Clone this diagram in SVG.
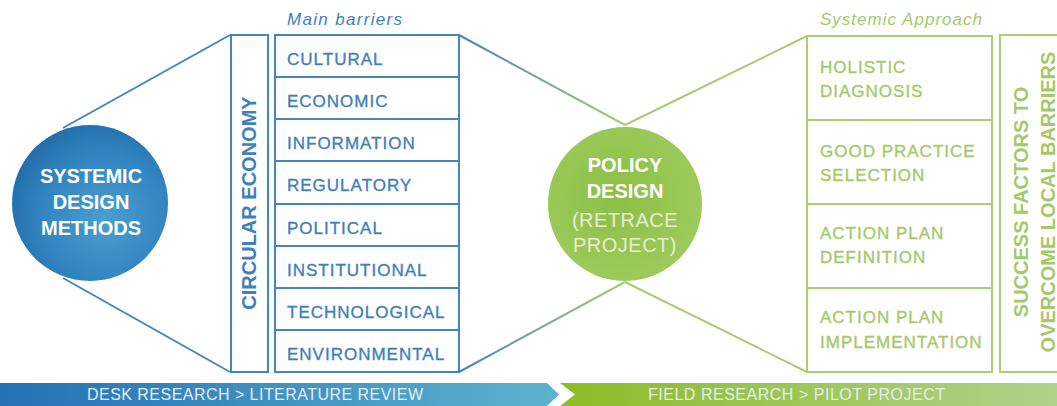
<svg xmlns="http://www.w3.org/2000/svg" width="1057" height="406" viewBox="0 0 1057 406">
<style>
  .b { fill: none; stroke: #4684bd; stroke-width: 2; }
  .g { fill: none; stroke: #a9cd70; stroke-width: 2; }
  .bt { font-family: "Liberation Sans", Arial, sans-serif; font-size: 17px; letter-spacing: 1px; fill: #3f80b9; stroke: #3f80b9; stroke-width: 0.35; }
  .gt { font-family: "Liberation Sans", Arial, sans-serif; font-size: 17px; letter-spacing: 1px; fill: #a5c96a; stroke: #a5c96a; stroke-width: 0.35; }
  .it { font-family: "Liberation Sans", Arial, sans-serif; font-size: 17px; font-style: italic; }
  .wt { font-family: "Liberation Sans", Arial, sans-serif; font-size: 20px; font-weight: bold; fill: #ffffff; text-anchor: middle; }
  .lt { font-family: "Liberation Sans", Arial, sans-serif; font-size: 20px; fill: #e3efcf; text-anchor: middle; letter-spacing: 0.5px; }
  .vt { font-family: "Liberation Sans", Arial, sans-serif; font-size: 20px; font-weight: bold; text-anchor: middle; }
  .bar { font-family: "Liberation Sans", Arial, sans-serif; font-size: 16px; fill: #e2eef3; }
</style>
<defs>
  <radialGradient id="blueC" cx="0.6" cy="0.6" r="0.7">
    <stop offset="0" stop-color="#4a9fd0"/>
    <stop offset="0.6" stop-color="#3184bf"/>
    <stop offset="1" stop-color="#1f68a5"/>
  </radialGradient>
  <radialGradient id="greenC" cx="0.45" cy="0.45" r="0.6">
    <stop offset="0" stop-color="#8cbf45"/>
    <stop offset="1" stop-color="#9fcb5e"/>
  </radialGradient>
  <linearGradient id="blueBar" x1="0" y1="0" x2="1" y2="0">
    <stop offset="0" stop-color="#2670b6"/>
    <stop offset="1" stop-color="#5cb3cd"/>
  </linearGradient>
  <linearGradient id="greenBar" x1="0" y1="0" x2="1" y2="0">
    <stop offset="0" stop-color="#8cbc27"/>
    <stop offset="1" stop-color="#b1d08b"/>
  </linearGradient>
  <linearGradient id="bgTop" gradientUnits="userSpaceOnUse" x1="459" y1="0" x2="625" y2="0">
    <stop offset="0" stop-color="#4684bd"/>
    <stop offset="1" stop-color="#a9cd70"/>
  </linearGradient>
</defs>

<g id="connectors">
  <line class="b" x1="230" y1="35" x2="63" y2="128"/>
  <line class="b" x1="230" y1="372" x2="63" y2="278"/>
  <line x1="459" y1="35" x2="625" y2="125" stroke="url(#bgTop)" stroke-width="2"/>
  <line x1="459" y1="372" x2="625" y2="282" stroke="url(#bgTop)" stroke-width="2"/>
  <line class="g" x1="625" y1="125" x2="807" y2="36"/>
  <line class="g" x1="625" y1="282" x2="807" y2="372"/>
</g>

<g id="systemic-design-methods">
  <circle cx="90" cy="203" r="78" fill="url(#blueC)"/>
  <text class="wt" x="91" y="183">SYSTEMIC</text>
  <text class="wt" x="91" y="209">DESIGN</text>
  <text class="wt" x="91" y="235">METHODS</text>
</g>

<g id="circular-economy">
  <rect class="b" x="231" y="35" width="37" height="337"/>
  <text class="vt" fill="#3f80b9" transform="translate(256,203) rotate(-90)">CIRCULAR ECONOMY</text>
</g>

<g id="main-barriers">
  <text class="it" x="287" y="25" fill="#3f80b9" textLength="115">Main barriers</text>
  <rect class="b" x="275" y="35" width="184" height="337"/>
  <line class="b" x1="275" y1="77" x2="459" y2="77"/>
  <line class="b" x1="275" y1="119" x2="459" y2="119"/>
  <line class="b" x1="275" y1="161" x2="459" y2="161"/>
  <line class="b" x1="275" y1="204" x2="459" y2="204"/>
  <line class="b" x1="275" y1="246" x2="459" y2="246"/>
  <line class="b" x1="275" y1="288" x2="459" y2="288"/>
  <line class="b" x1="275" y1="330" x2="459" y2="330"/>
  <text class="bt" x="287" y="65">CULTURAL</text>
  <text class="bt" x="287" y="107">ECONOMIC</text>
  <text class="bt" x="287" y="149">INFORMATION</text>
  <text class="bt" x="287" y="191">REGULATORY</text>
  <text class="bt" x="287" y="234">POLITICAL</text>
  <text class="bt" x="287" y="276">INSTITUTIONAL</text>
  <text class="bt" x="287" y="318">TECHNOLOGICAL</text>
  <text class="bt" x="287" y="360">ENVIRONMENTAL</text>
</g>

<g id="policy-design">
  <circle cx="625" cy="204" r="77" fill="url(#greenC)"/>
  <text class="wt" x="625" y="172">POLICY</text>
  <text class="wt" x="625" y="198">DESIGN</text>
  <text class="lt" x="625" y="227">(RETRACE</text>
  <text class="lt" x="625" y="252">PROJECT)</text>
</g>

<g id="systemic-approach">
  <text class="it" x="820" y="25" fill="#a5c96a" textLength="162">Systemic Approach</text>
  <rect class="g" x="807" y="36" width="185" height="336"/>
  <line class="g" x1="807" y1="120" x2="992" y2="120"/>
  <line class="g" x1="807" y1="204" x2="992" y2="204"/>
  <line class="g" x1="807" y1="288" x2="992" y2="288"/>
  <text class="gt" x="820" y="73">HOLISTIC</text>
  <text class="gt" x="820" y="97">DIAGNOSIS</text>
  <text class="gt" x="820" y="157">GOOD PRACTICE</text>
  <text class="gt" x="820" y="181">SELECTION</text>
  <text class="gt" x="820" y="239">ACTION PLAN</text>
  <text class="gt" x="820" y="263">DEFINITION</text>
  <text class="gt" x="820" y="323">ACTION PLAN</text>
  <text class="gt" x="820" y="348">IMPLEMENTATION</text>
</g>

<g id="success-factors">
  <rect class="g" x="1000" y="35" width="70" height="337"/>
  <text class="vt" fill="#a5c96a" transform="translate(1028,202) rotate(-90)">SUCCESS FACTORS TO</text>
  <text class="vt" fill="#a5c96a" transform="translate(1055,202) rotate(-90)">OVERCOME LOCAL BARRIERS</text>
</g>

<g id="desk-research">
  <polygon points="0,383 547,383 559,394.5 547,406 0,406" fill="url(#blueBar)"/>
  <text class="bar" x="87" y="400" textLength="336">DESK RESEARCH &gt; LITERATURE REVIEW</text>
</g>

<g id="field-research">
  <polygon points="560,383 1057,383 1057,406 560,406 575,394.5" fill="url(#greenBar)"/>
  <text class="bar" x="648" y="400" textLength="297" fill="#eef5e2">FIELD RESEARCH &gt; PILOT PROJECT</text>
</g>
</svg>
